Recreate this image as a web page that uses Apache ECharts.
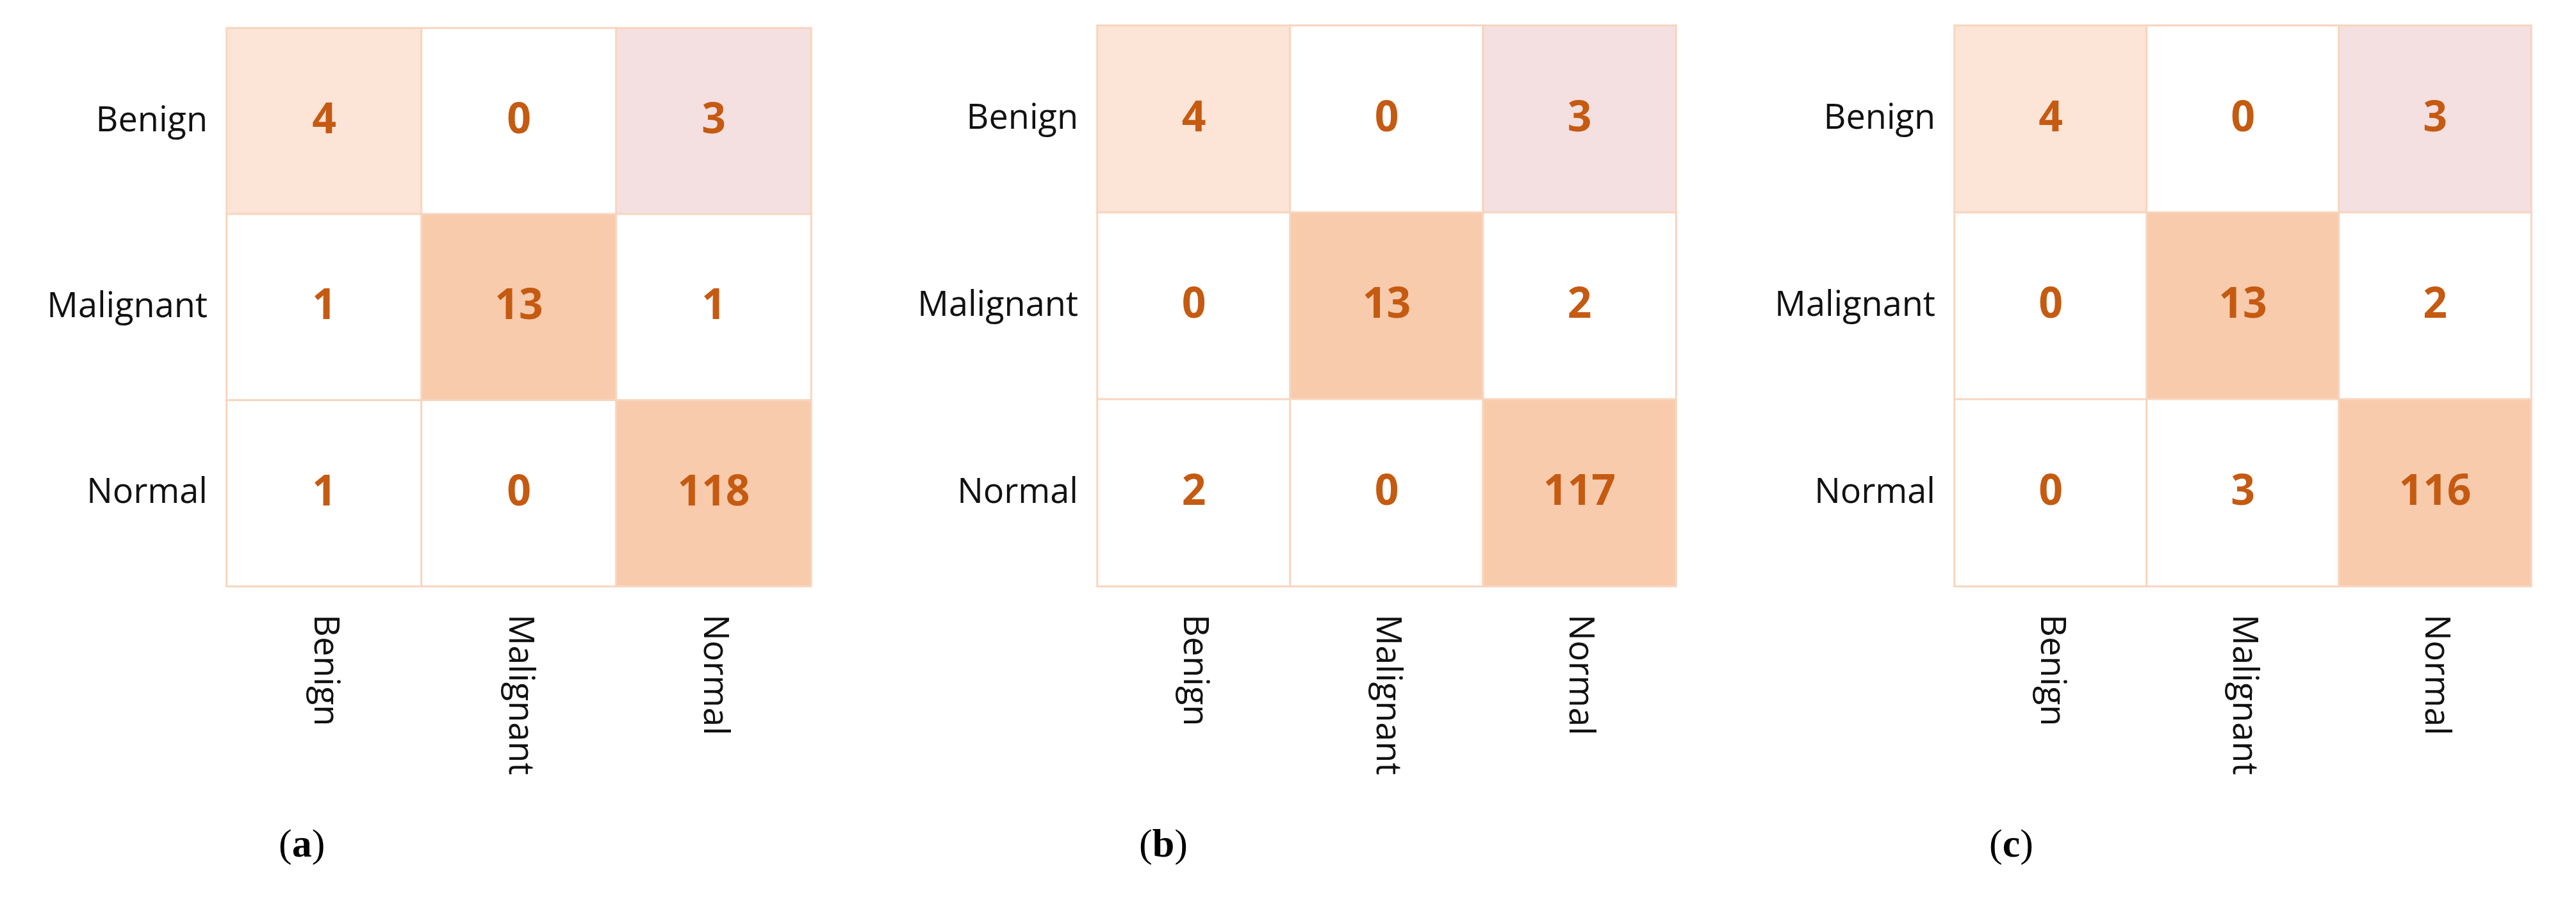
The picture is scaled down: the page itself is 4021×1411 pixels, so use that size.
<!DOCTYPE html>
<html>
<head>
<meta charset="utf-8">
<script src="https://cdn.jsdelivr.net/npm/echarts@6/dist/echarts.min.js"></script>
<style>html,body{margin:0;background:#fff}#main{width:4021px;height:1411px}</style>
</head>
<body>
<div id="main"></div>
<script>
var classes = ['Benign', 'Malignant', 'Normal'];
var panelLetters = ['a', 'b', 'c'];
// rows = true class, cols = predicted
var matrixA = [[4, 0, 3], [1, 13, 1], [1, 0, 118]];
var matrixB = [[4, 0, 3], [0, 13, 2], [2, 0, 117]];
var matrixC = [[4, 0, 3], [0, 13, 2], [0, 3, 116]];
var matrices = [matrixA, matrixB, matrixC];

var boxes = [
	{left: 354, top: 44, width: 912, height: 871, cap: 435},
	{left: 1713, top: 40, width: 903, height: 875, cap: 1778},
	{left: 3051, top: 40, width: 900, height: 875, cap: 3105}
];

function cellColor(r, c) {
	if (r == c && r > 0) return '#F8CBAD';
	if (r == 0 && c == 0) return '#FCE4D6';
	if (r == 0 && c == 2) return '#F4DFE1';
	return '#FFFFFF';
}

var grids = [], xAxes = [], yAxes = [], series = [], graphics = [];
for (var p = 0; p < 3; p++) {
	var b = boxes[p];
	grids.push({left: b.left, top: b.top, width: b.width, height: b.height,
		show: true, borderColor: '#D8C3B3', borderWidth: 2, backgroundColor: '#fff'});
	xAxes.push({type: 'category', data: classes, gridIndex: p,
		axisLine: {show: false}, axisTick: {show: false}, splitLine: {show: false},
		axisLabel: {rotate: -90, margin: 44, color: '#111', fontSize: 54, fontFamily: 'Open Sans'}});
	yAxes.push({type: 'category', data: classes, gridIndex: p, inverse: true,
		axisLine: {show: false}, axisTick: {show: false}, splitLine: {show: false},
		axisLabel: {margin: 30, color: '#111', fontSize: 54, fontFamily: 'Open Sans'}});
	var data = [];
	var m = matrices[p];
	for (var r = 0; r < 3; r++) {
		for (var c = 0; c < 3; c++) {
			data.push({value: [c, r, m[r][c]], itemStyle: {color: cellColor(r, c)}});
		}
	}
	series.push({type: 'heatmap', xAxisIndex: p, yAxisIndex: p, data: data,
		itemStyle: {borderColor: '#F8D5BE', borderWidth: 3},
		label: {show: true, color: '#C55A11', fontSize: 66, fontWeight: 'bold', fontFamily: 'Open Sans',
			formatter: function (e) { return e.value[2]; }}});
	graphics.push({type: 'text', left: b.cap, top: 1290,
		style: {text: '({l|' + panelLetters[p] + '})', fontSize: 62, fontFamily: 'Liberation Serif', fill: '#000',
			rich: {l: {fontSize: 62, fontWeight: 'bold', fontFamily: 'Liberation Serif'}}}});
}

var myChart = echarts.init(document.getElementById('main'));
myChart.setOption({
	animation: false,
	backgroundColor: '#fff',
	grid: grids,
	xAxis: xAxes,
	yAxis: yAxes,
	series: series,
	graphic: graphics
});
</script>
</body>
</html>
